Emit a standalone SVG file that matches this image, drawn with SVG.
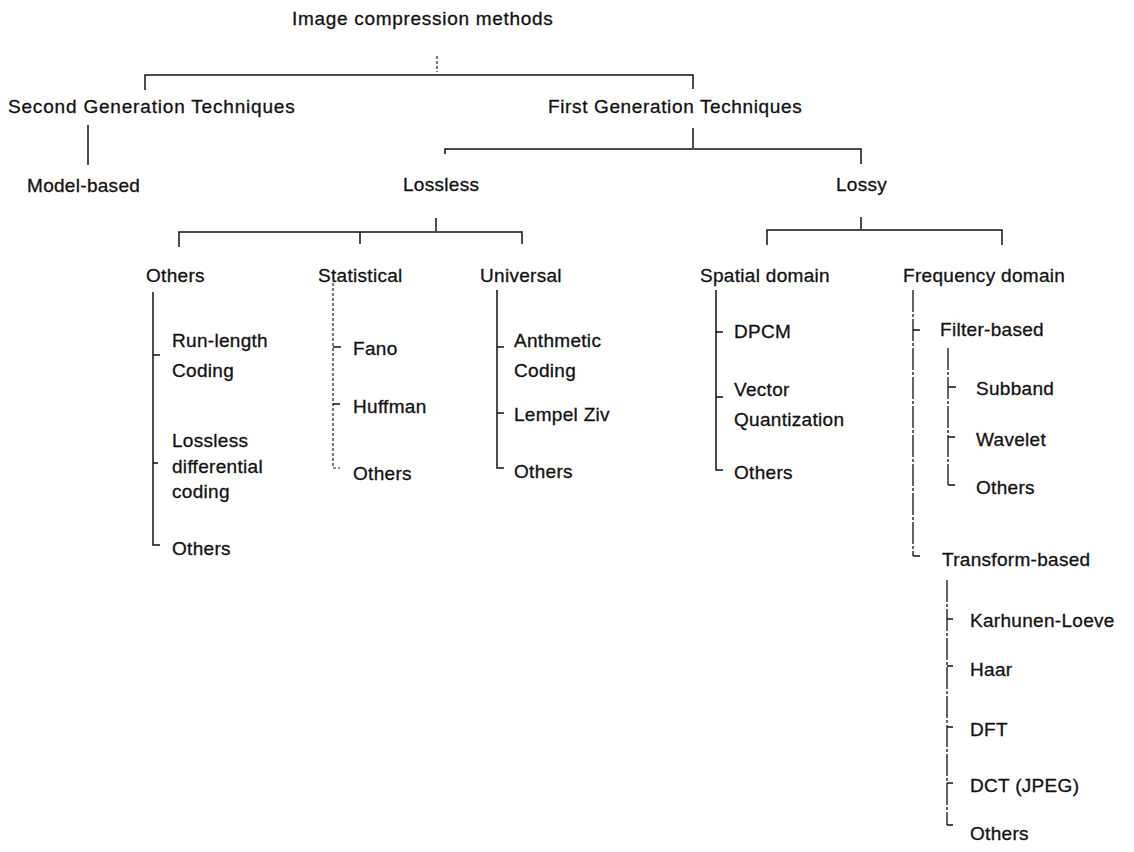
<svg xmlns="http://www.w3.org/2000/svg" width="1134" height="852" viewBox="0 0 1134 852">
<style>
.t{font-family:"Liberation Sans",Arial,Helvetica,sans-serif;font-size:19px;letter-spacing:0.3px;fill:#111;stroke:#111;stroke-width:0.3}
.c{fill:none;stroke:#111;stroke-width:1.5}
.d{fill:none;stroke:#222;stroke-width:1.2;stroke-dasharray:3 2}
.dd{fill:none;stroke:#111;stroke-width:1.3;stroke-dasharray:22 2 3 2}
</style>
<rect width="1134" height="852" fill="#fff"/>
<g id="connectors">
  <path class="d" d="M437,56 V72"/>
  <path class="c" d="M145,90 V75 H693 V89"/>
  <path class="c" d="M88,125 V165"/>
  <path class="c" d="M693,128 V148"/>
  <path class="c" d="M445,154 V149 H861 V164"/>
  <path class="c" d="M436,218 V231"/>
  <path class="c" d="M179,247 V232 H522 V244"/>
  <path class="c" d="M360,232 V244"/>
  <path class="c" d="M861,217 V229"/>
  <path class="c" d="M767,245 V230 H1002 V245"/>
  <path class="c" d="M153,292 V545 H160 M153,355 H160 M153,463 H158"/>
  <path class="d" d="M333,283 V468 H340"/>
  <path class="c" d="M333,347 H341 M333,404 H340"/>
  <path class="c" d="M497,290 V468 H504 M497,347 H504 M497,413 H504"/>
  <path class="c" d="M716,290 V470 H723 M716,332 H723 M716,397 H723"/>
  <path class="dd" d="M913,290 V556"/>
  <path class="c" d="M913,556 H920 M913,330 H920"/>
  <path class="dd" d="M948,348 V485"/>
  <path class="c" d="M948,485 H955 M948,387 H956 M948,437 H955"/>
  <path class="dd" d="M947,580 V825"/>
  <path class="c" d="M947,825 H953 M947,619 H953 M947,666 H953 M947,727 H953 M947,783 H953"/>
</g>
<g id="n-root"><text class="t" x="292" y="25" textLength="261">Image compression methods</text></g>
<g id="n-second"><text class="t" x="8" y="113" textLength="287">Second Generation Techniques</text></g>
<g id="n-first"><text class="t" x="548" y="113" textLength="254">First Generation Techniques</text></g>
<g id="n-model"><text class="t" x="27" y="192">Model-based</text></g>
<g id="n-lossless"><text class="t" x="403" y="191">Lossless</text></g>
<g id="n-lossy"><text class="t" x="836" y="191">Lossy</text></g>
<g id="n-others1"><text class="t" x="146" y="282">Others</text></g>
<g id="n-statistical"><text class="t" x="318" y="282">Statistical</text></g>
<g id="n-universal"><text class="t" x="480" y="282">Universal</text></g>
<g id="n-spatial"><text class="t" x="700" y="282">Spatial domain</text></g>
<g id="n-frequency"><text class="t" x="903" y="282">Frequency domain</text></g>
<g id="n-runlength"><text class="t" x="172" y="347">Run-length</text><text class="t" x="172" y="377">Coding</text></g>
<g id="n-lossdiff"><text class="t" x="172" y="447">Lossless</text><text class="t" x="172" y="473">differential</text><text class="t" x="172" y="498">coding</text></g>
<g id="n-others2"><text class="t" x="172" y="555">Others</text></g>
<g id="n-fano"><text class="t" x="353" y="355">Fano</text></g>
<g id="n-huffman"><text class="t" x="353" y="413">Huffman</text></g>
<g id="n-others3"><text class="t" x="353" y="480">Others</text></g>
<g id="n-arith"><text class="t" x="514" y="347">Anthmetic</text><text class="t" x="514" y="377">Coding</text></g>
<g id="n-lempel"><text class="t" x="514" y="421">Lempel Ziv</text></g>
<g id="n-others4"><text class="t" x="514" y="478">Others</text></g>
<g id="n-dpcm"><text class="t" x="734" y="338">DPCM</text></g>
<g id="n-vq"><text class="t" x="734" y="396">Vector</text><text class="t" x="734" y="426">Quantization</text></g>
<g id="n-others5"><text class="t" x="734" y="479">Others</text></g>
<g id="n-filter"><text class="t" x="940" y="336">Filter-based</text></g>
<g id="n-subband"><text class="t" x="976" y="395">Subband</text></g>
<g id="n-wavelet"><text class="t" x="976" y="446">Wavelet</text></g>
<g id="n-others6"><text class="t" x="976" y="494">Others</text></g>
<g id="n-transform"><text class="t" x="942" y="566">Transform-based</text></g>
<g id="n-kl"><text class="t" x="970" y="627">Karhunen-Loeve</text></g>
<g id="n-haar"><text class="t" x="970" y="676">Haar</text></g>
<g id="n-dft"><text class="t" x="970" y="736">DFT</text></g>
<g id="n-dct"><text class="t" x="970" y="792">DCT (JPEG)</text></g>
<g id="n-others7"><text class="t" x="970" y="840">Others</text></g>
</svg>
